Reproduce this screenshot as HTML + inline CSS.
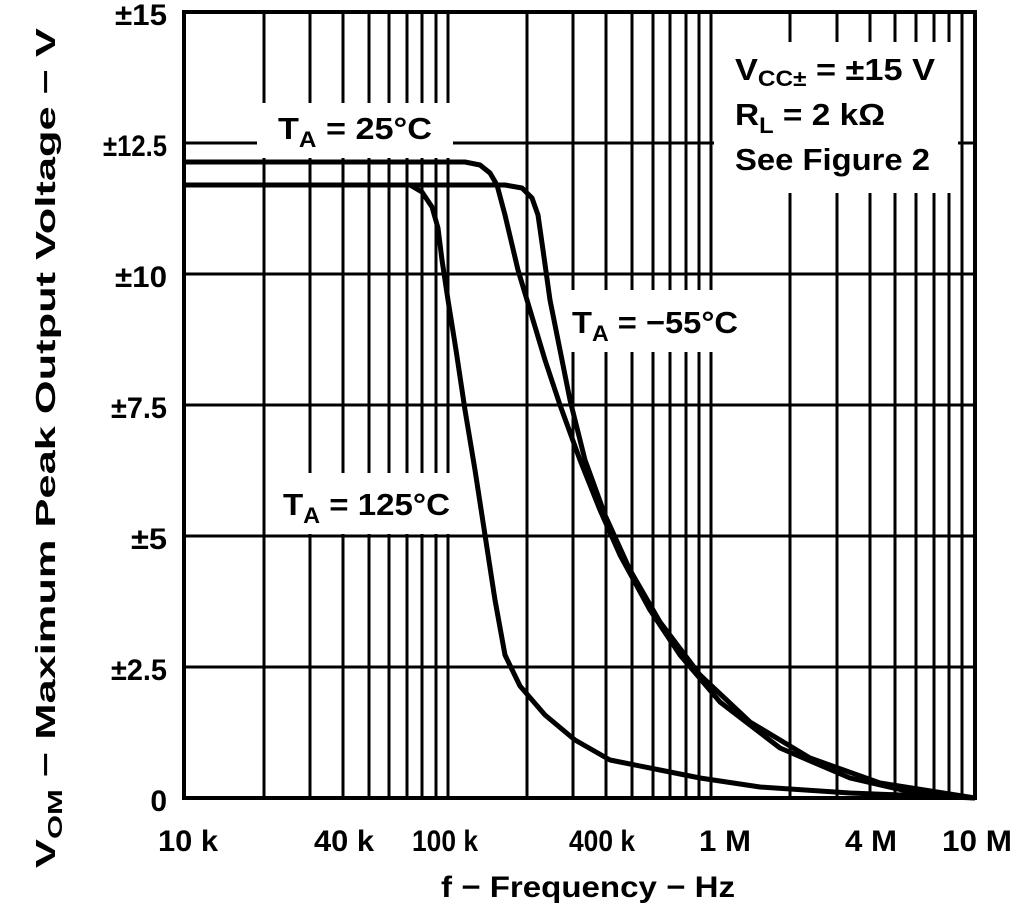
<!DOCTYPE html>
<html><head><meta charset="utf-8"><style>body{margin:0;background:#fff}svg{display:block}text{font-family:"Liberation Sans",sans-serif;font-weight:bold;fill:#000}</style></head><body>
<svg width="1012" height="906" viewBox="0 0 1012 906">
<g stroke="#000" stroke-width="3">
<line x1="264" y1="12" x2="264" y2="798"/><line x1="310" y1="12" x2="310" y2="798"/><line x1="343" y1="12" x2="343" y2="798"/><line x1="369" y1="12" x2="369" y2="798"/><line x1="389" y1="12" x2="389" y2="798"/><line x1="407" y1="12" x2="407" y2="798"/><line x1="422" y1="12" x2="422" y2="798"/><line x1="436" y1="12" x2="436" y2="798"/><line x1="448" y1="12" x2="448" y2="798"/>
<line x1="527" y1="12" x2="527" y2="798"/><line x1="573" y1="12" x2="573" y2="798"/><line x1="606" y1="12" x2="606" y2="798"/><line x1="632" y1="12" x2="632" y2="798"/><line x1="653" y1="12" x2="653" y2="798"/><line x1="670" y1="12" x2="670" y2="798"/><line x1="686" y1="12" x2="686" y2="798"/><line x1="699" y1="12" x2="699" y2="798"/><line x1="711" y1="12" x2="711" y2="798"/>
<line x1="790" y1="12" x2="790" y2="798"/><line x1="837" y1="12" x2="837" y2="798"/><line x1="870" y1="12" x2="870" y2="798"/><line x1="895" y1="12" x2="895" y2="798"/><line x1="916" y1="12" x2="916" y2="798"/><line x1="934" y1="12" x2="934" y2="798"/><line x1="949" y1="12" x2="949" y2="798"/><line x1="962" y1="12" x2="962" y2="798"/>
</g>
<g fill="#fff">
<rect x="257" y="103" width="196" height="55"/>
<rect x="560" y="290" width="155" height="62"/>
<rect x="266" y="473" width="209" height="61"/>
<rect x="714" y="42" width="244" height="151"/>
</g>
<g stroke="#000" stroke-width="3">
<line x1="184" y1="143" x2="257" y2="143"/><line x1="453" y1="143" x2="714" y2="143"/><line x1="958" y1="143" x2="975" y2="143"/>
<line x1="184" y1="274" x2="975" y2="274"/><line x1="184" y1="405" x2="975" y2="405"/><line x1="184" y1="536" x2="975" y2="536"/><line x1="184" y1="667" x2="975" y2="667"/>
</g>
<rect x="184" y="12" width="791" height="786" fill="none" stroke="#000" stroke-width="4"/>
<g fill="none" stroke="#000" stroke-width="5" stroke-linejoin="round">
<polyline points="185,162 465,162 480,165 490,173 497,185 505,215 518,270 530,310 545,360 560,405 580,460 600,510 620,555 650,610 680,655 720,702 780,748 850,778 920,794 975,798"/>
<polyline points="185,185 505,185 522,188 532,198 538,215 543,250 550,300 560,350 570,400 585,460 605,515 630,570 660,622 700,675 750,722 810,758 880,783 975,798"/>
<polyline points="185,185 410,185 422,192 432,207 438,228 442,260 448,300 456,350 465,410 475,470 485,535 495,600 505,655 520,686 545,715 575,740 610,760 660,770 700,778 760,787 850,793 975,798"/>
</g>
<g font-size="30" text-anchor="end">
<text x="167" y="25" textLength="52" lengthAdjust="spacingAndGlyphs">±15</text><text x="167" y="156" textLength="64" lengthAdjust="spacingAndGlyphs">±12.5</text><text x="167" y="287" textLength="52" lengthAdjust="spacingAndGlyphs">±10</text><text x="167" y="418" textLength="56" lengthAdjust="spacingAndGlyphs">±7.5</text><text x="167" y="549" textLength="36" lengthAdjust="spacingAndGlyphs">±5</text><text x="167" y="680" textLength="56" lengthAdjust="spacingAndGlyphs">±2.5</text><text x="167" y="811">0</text>
</g>
<g font-size="30">
<text x="158" y="851" textLength="60" lengthAdjust="spacingAndGlyphs">10 k</text>
<text x="314" y="851" textLength="60" lengthAdjust="spacingAndGlyphs">40 k</text>
<text x="412" y="851" textLength="66" lengthAdjust="spacingAndGlyphs">100 k</text>
<text x="569" y="851" textLength="66" lengthAdjust="spacingAndGlyphs">400 k</text>
<text x="699" y="851" textLength="52" lengthAdjust="spacingAndGlyphs">1 M</text>
<text x="845" y="851" textLength="52" lengthAdjust="spacingAndGlyphs">4 M</text>
<text x="942" y="851" textLength="70" lengthAdjust="spacingAndGlyphs">10 M</text>
<text x="441" y="897" textLength="294" lengthAdjust="spacingAndGlyphs">f − Frequency − Hz</text>
</g>
<text font-size="28" transform="translate(55,868) rotate(-90)" textLength="840" lengthAdjust="spacingAndGlyphs">V<tspan font-size="20" dy="7">OM</tspan><tspan dy="-7"> − Maximum Peak Output Voltage − V</tspan></text>
<g font-size="31">
<text x="278" y="139" textLength="154" lengthAdjust="spacingAndGlyphs">T<tspan font-size="22" dy="8">A</tspan><tspan dy="-8"> = 25°C</tspan></text>
<text x="572" y="333" textLength="166" lengthAdjust="spacingAndGlyphs">T<tspan font-size="22" dy="8">A</tspan><tspan dy="-8"> = −55°C</tspan></text>
<text x="283" y="515" textLength="167" lengthAdjust="spacingAndGlyphs">T<tspan font-size="22" dy="8">A</tspan><tspan dy="-8"> = 125°C</tspan></text>
<text x="735" y="80" textLength="200" lengthAdjust="spacingAndGlyphs">V<tspan font-size="22" dy="6">CC±</tspan><tspan dy="-6"> = ±15 V</tspan></text>
<text x="735" y="125" textLength="150" lengthAdjust="spacingAndGlyphs">R<tspan font-size="22" dy="8">L</tspan><tspan dy="-8"> = 2 kΩ</tspan></text>
<text x="735" y="170" textLength="195" lengthAdjust="spacingAndGlyphs">See Figure 2</text>
</g>
</svg>
</body></html>
